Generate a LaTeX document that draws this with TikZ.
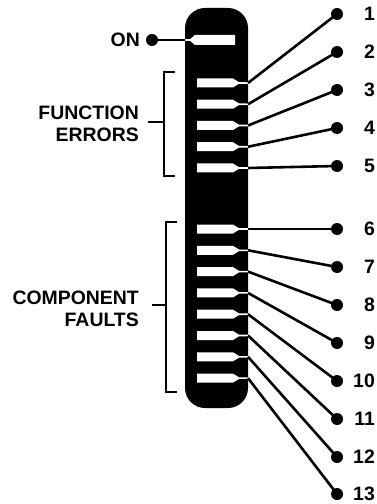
\documentclass[tikz,border=0pt]{standalone}
\usepackage{fontspec}
\setmainfont{Liberation Sans}
\begin{document}
\begin{tikzpicture}[x=1bp,y=-1bp,
  lbl/.style={font=\fontsize{19.5}{22}\selectfont\bfseries, inner sep=0pt},
  dotn/.style={circle, fill=black, inner sep=0pt, minimum size=12bp},
  lead/.style={line width=2.6bp},
  brk/.style={line width=1.1bp}]
\useasboundingbox (0,0) rectangle (376,504);
% display bar
\fill[rounded corners=20bp] (185,8) rectangle (248,408);
% ON segment
\fill[white] (235,35) -- (195,35) -- (190,39.2) -- (185,39.2) -- (185,40.8) -- (190,40.8) -- (195,45) -- (235,45) -- cycle;
\coordinate (son) at (185,40);
\node[dotn] (don) at (152,40) {};
\node[lbl, anchor=east] (on) at (140,40) {ON};
\draw[lead] (don.center) -- (son);
% numbered segments
\foreach \i/\sy/\dy in {1/83/14, 2/104.25/52, 3/125.5/90, 4/146.75/128, 5/168/166,
  6/229/229, 7/250.3/267, 8/271.6/305, 9/292.9/343, 10/314.2/381, 11/335.5/419, 12/356.8/457, 13/378.1/494} {
  \fill[white] (197,\sy-4.5) -- (233,\sy-4.5) -- (239,\sy-0.8) -- (248,\sy-0.8) -- (248,\sy+0.8) -- (239,\sy+0.8) -- (233,\sy+4.5) -- (197,\sy+4.5) -- cycle;
  \coordinate (s\i) at (248,\sy);
  \node[dotn] (d\i) at (337,\dy) {};
  \node[lbl, anchor=east] (n\i) at (375,\dy) {\i};
  \draw[lead] (s\i) -- (d\i.center);
}
% brackets
\node[lbl, align=right, anchor=east] (fe) at (139,124) {FUNCTION\\ERRORS};
\coordinate (fb1) at (175,72);
\coordinate (fb2) at (164,72);
\coordinate (fb3) at (164,176);
\coordinate (fb4) at (175,176);
\coordinate (fbm) at (164,122);
\coordinate (fbt) at (148,122);
\draw[brk] (fb1) -- (fb2) -- (fb3) -- (fb4);
\draw[brk] (fbm) -- (fbt);
\node[lbl, align=right, anchor=east] (cf) at (139,309) {COMPONENT\\FAULTS};
\coordinate (cb1) at (177,222);
\coordinate (cb2) at (166,222);
\coordinate (cb3) at (166,392);
\coordinate (cb4) at (177,392);
\coordinate (cbm) at (166,305);
\coordinate (cbt) at (152,305);
\draw[brk] (cb1) -- (cb2) -- (cb3) -- (cb4);
\draw[brk] (cbm) -- (cbt);
\end{tikzpicture}
\end{document}
